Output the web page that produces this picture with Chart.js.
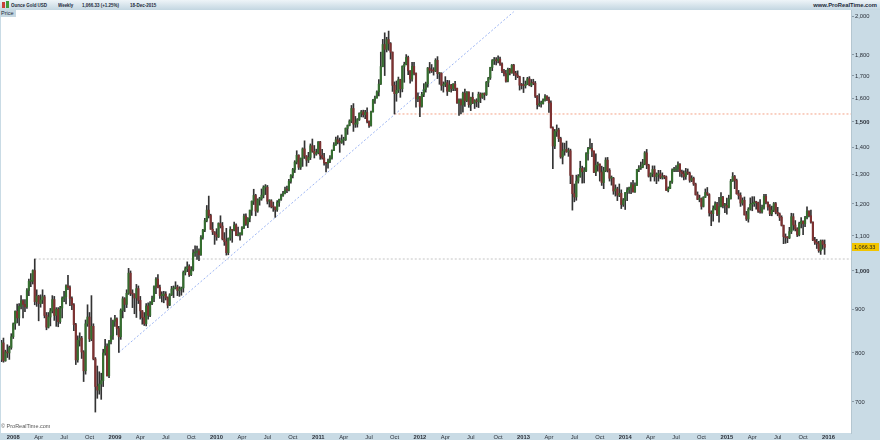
<!DOCTYPE html>
<html>
<head>
<meta charset="utf-8">
<script src="https://cdn.jsdelivr.net/npm/chart.js@4.4.1/dist/chart.umd.min.js"></script>
<style>
  html, body { margin: 0; padding: 0; background: #c9dbe5; }
  #wrap { position: relative; width: 880px; height: 440px; overflow: hidden; font-family: "Liberation Sans", Arial, sans-serif; }
  #chart { position: absolute; left: 0; top: 0; }
  .hdr { position: absolute; left: 0; top: 0; width: 880px; height: 10px; background: linear-gradient(#eef4f8, #c3d6e1); }
  .t { position: absolute; top: 1px; font-size: 5.6px; font-weight: bold; color: #1d2b3a; white-space: nowrap; line-height: 8px; transform: scaleX(0.8); transform-origin: 0 0; }
  .tr { position: absolute; top: 1px; right: 3px; font-size: 5.8px; font-weight: bold; color: #1d2b3a; white-space: nowrap; line-height: 8px; }
  .ico { position: absolute; top: 2px; width: 3px; height: 6px; }
  .tab { position: absolute; left: 0; top: 10px; width: 15px; height: 7px; background: #c6d8e2; font-size: 5.5px; line-height: 7px; color: #1d2b3a; padding-left: 1px; }
  .copy { position: absolute; left: 1px; top: 423px; font-size: 5.5px; color: #555; line-height: 7px; white-space: nowrap; }
</style>
</head>
<body>
<div id="wrap">
  <canvas id="chart" width="880" height="440"></canvas>
  <div class="hdr"></div>
  <span class="ico" style="left:2px;background:#c8403a"></span>
  <span class="ico" style="left:6px;top:1px;height:7px;background:#3f9a3a"></span>
  <span class="t" style="left:11px">Ounce Gold USD</span>
  <span class="t" style="left:58px">Weekly</span>
  <span class="t" style="left:82px">1,066.33 (+1.25%)</span>
  <span class="t" style="left:130px">18-Dec-2015</span>
  <span class="tr">www.ProRealTime.com</span>
  <div class="tab">Price</div>
  <div class="copy">© ProRealTime.com</div>
</div>
<script>
// weekly candles, first week starts Mon 19-Nov-2007
const opens = [786, 822, 783, 802, 800, 812,
  836, 866, 896, 880, 908, 922, 913, 907, 948, 972, 972, 1001, 920, 934, 915, 924, 932, 886, 858, 882, 897, 925, 886, 901, 871, 904, 928, 932, 960, 956, 928, 912, 864, 785, 828, 833, 802, 762, 866, 882, 831, 860, 787, 730, 723, 735, 742, 800, 814, 752, 825, 838,
  872, 878, 855, 836, 898, 927, 913, 941, 994, 941, 939, 929, 953, 923, 897, 881, 866, 909, 886, 915, 928, 958, 978, 956, 935, 935, 939, 930, 911, 937, 952, 954, 957, 948, 952, 955, 996, 1006, 1012, 990, 1003, 1050, 1052, 1056, 1045, 1096, 1118, 1147, 1180, 1163, 1120, 1112,
  1104, 1097, 1138, 1130, 1091, 1083, 1051, 1093, 1119, 1117, 1133, 1102, 1105, 1105, 1125, 1161, 1136, 1154, 1180, 1209, 1228, 1177, 1213, 1217, 1229, 1256, 1256, 1209, 1210, 1191, 1190, 1181, 1205, 1215, 1228, 1236, 1247, 1246, 1276, 1297, 1318, 1345, 1370, 1326, 1359, 1394, 1367, 1352, 1362, 1406, 1385, 1375, 1380,
  1421, 1369, 1360, 1342, 1340, 1348, 1360, 1388, 1409, 1429, 1420, 1419, 1428, 1429, 1474, 1486, 1504, 1556, 1491, 1492, 1510, 1536, 1542, 1530, 1539, 1502, 1486, 1542, 1592, 1601, 1628, 1663, 1744, 1852, 1828, 1877, 1857, 1814, 1657, 1620, 1635, 1683, 1642, 1745, 1755, 1788, 1724, 1686, 1745, 1712, 1598, 1606,
  1565, 1617, 1639, 1664, 1737, 1726, 1724, 1723, 1774, 1711, 1713, 1657, 1662, 1669, 1631, 1659, 1642, 1663, 1644, 1580, 1592, 1571, 1622, 1590, 1628, 1572, 1604, 1579, 1590, 1585, 1618, 1604, 1621, 1616, 1671, 1691, 1740, 1773, 1773, 1772, 1780, 1757, 1724, 1711, 1676, 1731, 1714, 1751, 1713, 1704, 1697, 1658,
  1657, 1656, 1662, 1687, 1658, 1668, 1667, 1609, 1572, 1576, 1577, 1592, 1608, 1596, 1580, 1476, 1405, 1462, 1468, 1434, 1364, 1386, 1392, 1383, 1387, 1297, 1234, 1223, 1277, 1294, 1322, 1310, 1313, 1376, 1396, 1396, 1386, 1308, 1333, 1338, 1309, 1272, 1314, 1352, 1315, 1287, 1287, 1243, 1250, 1229, 1235, 1198,
  1213, 1238, 1247, 1254, 1264, 1240, 1262, 1318, 1323, 1326, 1338, 1379, 1334, 1294, 1303, 1318, 1293, 1300, 1302, 1290, 1293, 1292, 1245, 1252, 1274, 1316, 1316, 1320, 1337, 1310, 1303, 1293, 1309, 1305, 1280, 1287, 1267, 1231, 1215, 1218, 1192, 1222, 1238, 1231, 1171, 1169, 1185, 1200, 1167, 1191, 1222, 1195,
  1195, 1189, 1217, 1277, 1293, 1279, 1234, 1228, 1203, 1212, 1165, 1152, 1183, 1199, 1201, 1206, 1204, 1177, 1174, 1189, 1225, 1205, 1190, 1168, 1180, 1201, 1173, 1168, 1157, 1132, 1098, 1095, 1094, 1113, 1159, 1133, 1121, 1103, 1138, 1145, 1137, 1156, 1177, 1162, 1142, 1088, 1081, 1077, 1057, 1085, 1075];

const highs = [828, 833, 806, 818, 815, 843,
  868, 897, 914, 915, 935, 925, 925, 953, 978, 993, 1003, 1033, 950, 936, 937, 950, 936, 893, 893, 903, 935, 933, 905, 905, 908, 932, 946, 963, 988, 960, 932, 915, 867, 838, 845, 837, 805, 875, 912, 893, 935, 866, 790, 772, 760, 757, 808, 830, 820, 828, 880, 875,
  886, 880, 860, 902, 932, 930, 950, 1007, 1000, 950, 940, 964, 960, 933, 898, 893, 915, 917, 920, 934, 960, 982, 990, 962, 945, 946, 945, 932, 940, 959, 960, 971, 962, 958, 957, 1000, 1011, 1025, 1017, 1012, 1060, 1071, 1070, 1062, 1101, 1120, 1154, 1195, 1226, 1167, 1141, 1113,
  1122, 1140, 1162, 1141, 1110, 1123, 1094, 1128, 1119, 1142, 1137, 1127, 1110, 1128, 1167, 1168, 1156, 1180, 1210, 1249, 1232, 1217, 1222, 1250, 1261, 1265, 1262, 1214, 1214, 1206, 1190, 1211, 1216, 1233, 1242, 1256, 1260, 1283, 1300, 1322, 1350, 1387, 1372, 1360, 1398, 1425, 1369, 1381, 1413, 1432, 1407, 1393, 1422,
  1423, 1392, 1377, 1344, 1356, 1369, 1390, 1418, 1440, 1445, 1436, 1448, 1439, 1476, 1488, 1509, 1569, 1577, 1523, 1514, 1538, 1548, 1549, 1548, 1559, 1505, 1545, 1595, 1610, 1633, 1684, 1814, 1878, 1912, 1889, 1921, 1862, 1815, 1673, 1677, 1695, 1685, 1748, 1765, 1802, 1795, 1725, 1764, 1764, 1715, 1624, 1608,
  1626, 1665, 1672, 1740, 1764, 1754, 1739, 1782, 1792, 1716, 1715, 1673, 1697, 1680, 1679, 1662, 1665, 1676, 1645, 1598, 1598, 1627, 1640, 1629, 1628, 1605, 1625, 1594, 1598, 1627, 1624, 1623, 1624, 1675, 1694, 1741, 1778, 1788, 1787, 1796, 1790, 1762, 1731, 1726, 1737, 1736, 1754, 1755, 1722, 1724, 1699, 1666,
  1694, 1677, 1694, 1697, 1684, 1685, 1675, 1612, 1619, 1588, 1597, 1616, 1612, 1605, 1589, 1480, 1470, 1488, 1475, 1439, 1417, 1416, 1424, 1397, 1393, 1298, 1267, 1298, 1300, 1348, 1330, 1325, 1380, 1400, 1433, 1415, 1387, 1375, 1345, 1338, 1330, 1326, 1361, 1362, 1321, 1295, 1290, 1264, 1256, 1267, 1247, 1218,
  1238, 1255, 1256, 1272, 1280, 1271, 1319, 1332, 1345, 1355, 1384, 1392, 1337, 1306, 1331, 1331, 1306, 1315, 1315, 1306, 1297, 1295, 1257, 1277, 1320, 1326, 1332, 1346, 1339, 1316, 1313, 1322, 1320, 1309, 1296, 1291, 1270, 1240, 1229, 1220, 1224, 1250, 1255, 1234, 1178, 1194, 1207, 1205, 1222, 1238, 1225, 1202,
  1219, 1229, 1283, 1307, 1297, 1284, 1245, 1237, 1220, 1223, 1176, 1188, 1220, 1224, 1224, 1209, 1206, 1214, 1196, 1232, 1232, 1207, 1198, 1193, 1205, 1205, 1189, 1171, 1162, 1133, 1106, 1098, 1126, 1170, 1169, 1147, 1125, 1142, 1156, 1146, 1160, 1191, 1178, 1180, 1143, 1096, 1090, 1084, 1088, 1088, 1088];

const lows = [781, 780, 782, 790, 786, 808,
  832, 853, 868, 862, 902, 880, 895, 903, 935, 958, 965, 912, 908, 873, 906, 915, 880, 852, 856, 861, 892, 874, 860, 859, 867, 880, 920, 914, 950, 910, 900, 850, 775, 780, 815, 788, 740, 755, 860, 825, 827, 785, 681, 707, 715, 705, 730, 795, 751, 748, 820, 830,
  860, 840, 801, 830, 880, 895, 905, 938, 935, 905, 890, 881, 915, 877, 865, 862, 861, 877, 883, 912, 920, 940, 955, 928, 919, 917, 924, 904, 910, 935, 930, 952, 935, 933, 936, 944, 989, 998, 985, 987, 1000, 1040, 1032, 1028, 1043, 1090, 1113, 1143, 1155, 1120, 1104, 1075,
  1087, 1095, 1124, 1088, 1072, 1044, 1045, 1087, 1081, 1115, 1101, 1100, 1087, 1102, 1122, 1132, 1125, 1143, 1163, 1198, 1162, 1173, 1196, 1212, 1220, 1231, 1200, 1190, 1187, 1176, 1157, 1176, 1192, 1212, 1225, 1233, 1237, 1243, 1270, 1288, 1307, 1338, 1318, 1318, 1329, 1358, 1330, 1343, 1354, 1381, 1360, 1370, 1375,
  1355, 1356, 1334, 1309, 1323, 1343, 1356, 1387, 1407, 1413, 1381, 1415, 1409, 1426, 1450, 1484, 1497, 1462, 1478, 1479, 1506, 1521, 1520, 1514, 1496, 1478, 1483, 1541, 1578, 1600, 1610, 1661, 1743, 1702, 1815, 1823, 1780, 1630, 1533, 1587, 1625, 1604, 1628, 1671, 1752, 1706, 1667, 1676, 1705, 1562, 1585, 1522,
  1562, 1607, 1627, 1649, 1713, 1716, 1704, 1720, 1688, 1662, 1635, 1627, 1651, 1612, 1630, 1627, 1633, 1633, 1578, 1527, 1533, 1541, 1565, 1585, 1561, 1547, 1577, 1556, 1563, 1560, 1581, 1599, 1593, 1612, 1651, 1684, 1725, 1754, 1752, 1762, 1750, 1716, 1700, 1672, 1673, 1705, 1713, 1702, 1683, 1692, 1636, 1641,
  1625, 1645, 1660, 1655, 1651, 1660, 1603, 1554, 1565, 1562, 1575, 1587, 1590, 1539, 1476, 1321, 1395, 1442, 1422, 1359, 1338, 1370, 1381, 1366, 1268, 1180, 1207, 1212, 1270, 1290, 1270, 1271, 1310, 1352, 1394, 1365, 1307, 1296, 1312, 1277, 1262, 1251, 1310, 1309, 1277, 1263, 1232, 1226, 1211, 1224, 1185, 1192,
  1182, 1211, 1235, 1234, 1239, 1238, 1262, 1310, 1318, 1324, 1335, 1321, 1291, 1277, 1292, 1277, 1268, 1277, 1285, 1284, 1285, 1245, 1240, 1251, 1269, 1310, 1310, 1310, 1293, 1291, 1281, 1283, 1300, 1273, 1275, 1262, 1229, 1214, 1207, 1183, 1190, 1221, 1228, 1161, 1131, 1145, 1181, 1162, 1142, 1190, 1187, 1172,
  1167, 1187, 1216, 1276, 1251, 1232, 1216, 1192, 1196, 1164, 1147, 1142, 1180, 1178, 1192, 1183, 1173, 1170, 1170, 1183, 1200, 1180, 1162, 1162, 1175, 1168, 1162, 1147, 1130, 1077, 1078, 1080, 1092, 1107, 1117, 1115, 1098, 1100, 1124, 1104, 1128, 1152, 1158, 1139, 1086, 1075, 1063, 1052, 1046, 1061, 1046];

const closes = [822, 783, 802, 800, 812, 836,
  866, 896, 880, 908, 922, 913, 907, 948, 972, 972, 1001, 920, 934, 915, 924, 932, 886, 858, 882, 897, 925, 886, 901, 871, 904, 928, 932, 960, 956, 928, 912, 864, 785, 828, 833, 802, 762, 866, 882, 831, 860, 787, 730, 723, 735, 742, 800, 814, 752, 825, 838, 872,
  878, 855, 836, 898, 927, 913, 941, 994, 941, 939, 929, 953, 923, 897, 881, 866, 909, 886, 915, 928, 958, 978, 956, 935, 935, 939, 930, 911, 937, 952, 954, 957, 948, 952, 955, 996, 1006, 1012, 990, 1003, 1050, 1052, 1056, 1045, 1096, 1118, 1147, 1180, 1163, 1120, 1112, 1104,
  1097, 1138, 1130, 1091, 1083, 1051, 1093, 1119, 1117, 1133, 1102, 1105, 1105, 1125, 1161, 1136, 1154, 1180, 1209, 1228, 1177, 1213, 1217, 1229, 1256, 1256, 1209, 1210, 1191, 1190, 1181, 1205, 1215, 1228, 1236, 1247, 1246, 1276, 1297, 1318, 1345, 1370, 1326, 1359, 1394, 1367, 1352, 1362, 1406, 1385, 1375, 1380, 1421,
  1369, 1360, 1342, 1340, 1348, 1360, 1388, 1409, 1429, 1420, 1419, 1428, 1429, 1474, 1486, 1504, 1556, 1491, 1492, 1510, 1536, 1542, 1530, 1539, 1502, 1486, 1542, 1592, 1601, 1628, 1663, 1744, 1852, 1828, 1877, 1857, 1814, 1657, 1620, 1635, 1683, 1642, 1745, 1755, 1788, 1724, 1686, 1745, 1712, 1598, 1606, 1565,
  1617, 1639, 1664, 1737, 1726, 1724, 1723, 1774, 1711, 1713, 1657, 1662, 1669, 1631, 1659, 1642, 1663, 1644, 1580, 1592, 1571, 1622, 1590, 1628, 1572, 1604, 1579, 1590, 1585, 1618, 1604, 1621, 1616, 1671, 1691, 1740, 1773, 1773, 1772, 1780, 1757, 1724, 1711, 1676, 1731, 1714, 1751, 1713, 1704, 1697, 1658, 1657,
  1656, 1662, 1687, 1658, 1668, 1667, 1609, 1572, 1576, 1577, 1592, 1608, 1596, 1580, 1476, 1405, 1462, 1468, 1434, 1364, 1386, 1392, 1383, 1387, 1297, 1234, 1223, 1277, 1294, 1322, 1310, 1313, 1376, 1396, 1396, 1386, 1308, 1333, 1338, 1309, 1272, 1314, 1352, 1315, 1287, 1287, 1243, 1250, 1229, 1235, 1198, 1213,
  1238, 1247, 1254, 1264, 1240, 1262, 1318, 1323, 1326, 1338, 1379, 1334, 1294, 1303, 1318, 1293, 1300, 1302, 1290, 1293, 1292, 1245, 1252, 1274, 1316, 1316, 1320, 1337, 1310, 1303, 1293, 1309, 1305, 1280, 1287, 1267, 1231, 1215, 1218, 1192, 1222, 1238, 1231, 1171, 1169, 1185, 1200, 1167, 1191, 1222, 1195, 1195,
  1189, 1217, 1277, 1293, 1279, 1234, 1228, 1203, 1212, 1165, 1152, 1183, 1199, 1201, 1206, 1204, 1177, 1174, 1189, 1225, 1205, 1190, 1168, 1180, 1201, 1173, 1168, 1157, 1132, 1098, 1095, 1094, 1113, 1159, 1133, 1121, 1103, 1138, 1145, 1137, 1156, 1177, 1162, 1142, 1088, 1081, 1077, 1057, 1085, 1075, 1066.33];

// axis labels
const yTickValues = [700, 800, 900, 1000, 1100, 1200, 1300, 1400, 1500, 1600, 1700, 1800, 2000];
const yBoldTicks = [1000, 1500];
const yearLabels = ['2008', '2009', '2010', '2011', '2012', '2013', '2014', '2015', '2016'];
const monthLabels = ['Apr', 'Jul', 'Oct'];
const monthNumbers = [3, 6, 9];

// drawn levels (week index, price)
const supportLevel = 1033;
const supportFrom = 17;
const resistLevel = 1533;
const resistFrom = 201;
const trendPoints = [{ x: 60, y: 801 }, { x: 262, y: 2025 }];
const lastPrice = 1066.33;

const START = Date.UTC(2007, 10, 19);
const WEEK = 7 * 864e5;
const weekOf = (y, m) => Math.floor((Date.UTC(y, m, 1) - START) / WEEK);

const X_MIN = -0.26;
const X_MAX = 434.5;
const Y_MIN = 643.3;
const Y_MAX = 2034.5;

const xTicks = [];
yearLabels.forEach((yl) => {
  const yr = +yl;
  xTicks.push({ value: weekOf(yr, 0), text: yl, major: true });
  if (yr < 2016) {
    monthLabels.forEach((ml, k) => {
      xTicks.push({ value: weekOf(yr, monthNumbers[k]), text: ml, major: false });
    });
  }
});

const UP = '#356e2f';
const DOWN = '#7e3131';
const WICK = '#333333';
const FONT = '"Liberation Sans", Arial, sans-serif';

const wickData = highs.map((h, i) => ({ x: i, y: [lows[i], h] }));
const bodyData = opens.map((o, i) => ({ x: i, y: [o, closes[i]] }));

const panel = {
  id: 'panel',
  beforeDraw(chart) {
    const { ctx, chartArea: a } = chart;
    ctx.save();
    ctx.fillStyle = '#c9dbe5';
    ctx.fillRect(0, 0, chart.width, chart.height);
    ctx.fillStyle = '#ffffff';
    ctx.fillRect(a.left, a.top, a.right - a.left, a.bottom - a.top);
    ctx.restore();
  },
  afterDraw(chart) {
    const { ctx, chartArea: a } = chart;
    const y = chart.scales.y.getPixelForValue(lastPrice);
    ctx.save();
    ctx.fillStyle = '#f2c500';
    ctx.fillRect(a.right + 1, Math.round(y) - 4, 27, 8);
    ctx.fillStyle = '#222';
    ctx.font = '5.5px ' + FONT;
    ctx.textBaseline = 'middle';
    ctx.fillText(lastPrice.toLocaleString('en-US', { minimumFractionDigits: 2 }), a.right + 3, Math.round(y));
    ctx.restore();
  }
};

new Chart(document.getElementById('chart'), {
  type: 'bar',
  data: {
    datasets: [
      {
        data: bodyData,
        backgroundColor: (c) => closes[c.dataIndex] >= opens[c.dataIndex] ? UP : DOWN,
        barThickness: 1.5,
        minBarLength: 1,
        grouped: false,
        order: 1
      },
      {
        data: wickData,
        backgroundColor: WICK,
        barThickness: 1,
        grouped: false,
        order: 2
      },
      {
        type: 'line',
        data: [{ x: supportFrom, y: supportLevel }, { x: X_MAX, y: supportLevel }],
        borderColor: '#c4c4c4',
        borderDash: [2, 2],
        borderWidth: 1,
        pointRadius: 0,
        order: 3
      },
      {
        type: 'line',
        data: [{ x: resistFrom, y: resistLevel }, { x: X_MAX, y: resistLevel }],
        borderColor: '#f4a286',
        borderDash: [2, 2],
        borderWidth: 1,
        pointRadius: 0,
        order: 3
      },
      {
        type: 'line',
        data: trendPoints,
        borderColor: '#9cb5f4',
        borderDash: [2, 2],
        borderWidth: 1,
        pointRadius: 0,
        order: 3
      }
    ]
  },
  options: {
    responsive: false,
    animation: false,
    events: [],
    layout: { padding: { top: 10, left: 1, right: 0, bottom: 0 } },
    plugins: {
      legend: { display: false },
      tooltip: { enabled: false }
    },
    scales: {
      x: {
        type: 'linear',
        min: X_MIN,
        max: X_MAX,
        offset: false,
        grid: { display: false, drawTicks: false, tickLength: 0, offset: false },
        border: { display: false },
        afterBuildTicks: (s) => { s.ticks = xTicks.map(t => ({ ...t })); },
        afterFit: (s) => { s.height = 7; },
        ticks: {
          autoSkip: false,
          maxRotation: 0,
          minRotation: 0,
          padding: 1,
          color: '#2a2f38',
          font: (c) => ({ family: FONT, size: 5.8, weight: c.tick && c.tick.major ? 'bold' : 'normal' }),
          callback: (v, i, ticks) => ticks[i].text
        }
      },
      y: {
        type: 'logarithmic',
        position: 'right',
        min: Y_MIN,
        max: Y_MAX,
        beginAtZero: false,
        grid: { drawOnChartArea: false, drawTicks: true, tickLength: 3, color: '#8a9aa6' },
        border: { display: true, color: '#b4c6d0' },
        afterBuildTicks: (s) => { s.ticks = yTickValues.map(v => ({ value: v })); },
        afterFit: (s) => { s.width = 29; },
        ticks: {
          autoSkip: false,
          padding: 1,
          color: '#2a2f38',
          font: (c) => ({ family: FONT, size: 5.8, weight: c.tick && yBoldTicks.includes(c.tick.value) ? 'bold' : 'normal' }),
          callback: (v) => v.toLocaleString('en-US')
        }
      }
    }
  },
  plugins: [panel]
});
</script>
</body>
</html>
